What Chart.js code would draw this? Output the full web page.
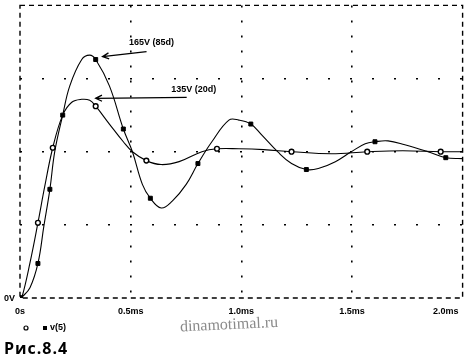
<!DOCTYPE html>
<html>
<head>
<meta charset="utf-8">
<script src="https://cdn.jsdelivr.net/npm/chart.js@4/dist/chart.umd.min.js"></script>
<style>
html,body{margin:0;padding:0;background:#fff;}
#wrap{width:468px;height:356px;position:relative;}
</style>
</head>
<body>
<div id="wrap"><canvas id="c" width="468" height="356"></canvas></div>
<script>
// ---- data (time in ms, voltage in V) ----
const t85 = [0,0.009,0.045,0.081,0.108,0.135,0.157,0.193,0.225,0.279,0.315,0.342,0.404,0.467,0.508,0.553,0.589,0.638,0.688,0.751,0.804,0.867,0.944,0.989,1.043,1.092,1.164,1.227,1.294,1.348,1.425,1.497,1.560,1.604,1.663,1.739,1.843,1.924,2.0];
const v85 = [0,0.7,7,23.6,49.3,74.3,100,125,145,163,166,163,145,115.5,100,77.7,68.2,61.5,66.2,77.7,91.9,106.8,121.6,121.6,118.9,111.5,100,91.9,87.8,88.5,93.2,100,105.4,106.8,107.4,104.7,100,95.9,95.3];
const marks85 = [0,3,5,7,11,13,16,20,24,28,33,37];

const t20 = [0,0.009,0.045,0.081,0.112,0.148,0.193,0.234,0.279,0.315,0.342,0.404,0.467,0.508,0.571,0.638,0.719,0.822,0.890,0.989,1.101,1.227,1.407,1.569,1.730,1.901,2.0];
const v20 = [0,0.7,24,51.4,76.4,102.7,125,133.8,135.8,135.1,131.1,118.9,106.8,100,93.9,91.2,93.2,100,102,102,101.4,100,98.6,100,100.7,100,100];
const marks20 = [0,3,5,10,14,18,21,23,25];

const xTickValues = [0, 0.5, 1.0, 1.5, 2.0];
const xTickLabels = ['0s', '0.5ms', '1.0ms', '1.5ms', '2.0ms'];
const yTickValues = [0];
const yTickLabels = ['0V'];

const annText = ['165V (85d)', '135V (20d)'];
const annTipT = [0.373, 0.342];
const annTipV = [165, 136.5];

const legendLabel = 'v(5)';
const caption = 'Рис.8.4';
const watermark = 'dinamotimal.ru';

// ---- build ----
const pts = (t, v) => t.map((x, i) => ({x: x, y: v[i]}));
const Y_MAX = 200, X_MAX = 2.0;

const overlay = {
  id: 'overlay',
  afterDraw(chart) {
    const ctx = chart.ctx;
    const {left, right, top, bottom} = chart.chartArea;
    const xs = chart.scales.x, ys = chart.scales.y;
    ctx.save();
    // dashed frame
    ctx.strokeStyle = '#000';
    ctx.lineWidth = 1.4;
    ctx.setLineDash([5, 4]);
    ctx.strokeRect(left, top, right - left, bottom - top);
    ctx.setLineDash([]);
    // x tick labels
    ctx.fillStyle = '#000';
    ctx.font = 'bold 9px "Liberation Sans", Arial, sans-serif';
    ctx.textBaseline = 'middle';
    xTickValues.forEach((v, i) => {
      const px = xs.getPixelForValue(v);
      if (i === xTickValues.length - 1) { ctx.textAlign = 'right'; ctx.fillText(xTickLabels[i], px - 4, bottom + 14); }
      else { ctx.textAlign = 'center'; ctx.fillText(xTickLabels[i], px, bottom + 14); }
    });
    // y tick labels
    ctx.textAlign = 'right';
    yTickValues.forEach((v, i) => {
      ctx.fillText(yTickLabels[i], left - 5, ys.getPixelForValue(v) + 1);
    });
    // annotations with arrows
    const offs = [{tx: 49, ty: -14, lx: 44, ly: -5}, {tx: 98, ty: -9, lx: 91, ly: -1}];
    ctx.lineWidth = 1.3;
    annText.forEach((txt, i) => {
      const px = xs.getPixelForValue(annTipT[i]);
      const py = ys.getPixelForValue(annTipV[i]);
      const o = offs[i];
      ctx.beginPath();
      ctx.moveTo(px, py);
      ctx.lineTo(px + o.lx, py + o.ly);
      const ang = Math.atan2(o.ly, o.lx);
      const L = 7, a = 0.45;
      ctx.moveTo(px + L * Math.cos(ang - a), py + L * Math.sin(ang - a));
      ctx.lineTo(px, py);
      ctx.lineTo(px + L * Math.cos(ang + a), py + L * Math.sin(ang + a));
      ctx.stroke();
      ctx.textAlign = 'center';
      ctx.font = 'bold 9px "Liberation Sans", Arial, sans-serif';
      ctx.fillText(txt, px + o.tx, py + o.ty);
    });
    // legend
    const ly = bottom + 30;
    ctx.lineWidth = 1.2;
    ctx.beginPath(); ctx.arc(26, ly, 2, 0, Math.PI * 2); ctx.stroke();
    ctx.fillRect(43, ly - 2, 4, 4);
    ctx.textAlign = 'left';
    ctx.fillText(legendLabel, 50, ly);
    // caption
    ctx.font = 'bold 16px "Open Sans", "Noto Sans", sans-serif';
    try { ctx.letterSpacing = '1px'; } catch (e) {}
    ctx.fillText(caption, 4, 349);
    try { ctx.letterSpacing = '0px'; } catch (e) {}
    // watermark
    ctx.save();
    ctx.translate(229, 325);
    ctx.rotate(-0.045);
    ctx.fillStyle = '#8a8a8a';
    ctx.textAlign = 'center';
    ctx.font = '16px "Liberation Serif", "DejaVu Serif", serif';
    ctx.fillText(watermark, 0, 0);
    ctx.restore();
    ctx.restore();
  }
};

const gridColor = (max) => (c) => (c.tick && (c.tick.value === 0 || c.tick.value === max)) ? 'rgba(0,0,0,0)' : '#000';

new Chart(document.getElementById('c'), {
  type: 'line',
  data: {
    datasets: [
      {
        label: '85d',
        data: pts(t85, v85),
        borderColor: '#000', borderWidth: 1.1,
        tension: 0.4,
        pointStyle: 'rect',
        pointRadius: (c) => marks85.includes(c.dataIndex) ? 2.8 : 0,
        pointBackgroundColor: '#000', pointBorderColor: '#000', pointBorderWidth: 1
      },
      {
        label: '20d',
        data: pts(t20, v20),
        borderColor: '#000', borderWidth: 1.1,
        tension: 0.4,
        pointStyle: 'circle',
        pointRadius: (c) => marks20.includes(c.dataIndex) ? 2.4 : 0,
        pointBackgroundColor: '#fff', pointBorderColor: '#000', pointBorderWidth: 1.4
      }
    ]
  },
  options: {
    responsive: false,
    animation: false,
    events: [],
    layout: {padding: {left: 20, right: 2, top: 2, bottom: 58}},
    plugins: {legend: {display: false}, tooltip: {enabled: false}},
    scales: {
      x: {
        type: 'linear', min: 0, max: X_MAX,
        ticks: {display: false, stepSize: 0.5},
        grid: {drawTicks: false, color: gridColor(X_MAX), lineWidth: 1.6},
        border: {display: false, dash: [2, 13]}
      },
      y: {
        type: 'linear', min: 0, max: Y_MAX,
        ticks: {display: false, stepSize: 50},
        grid: {drawTicks: false, color: gridColor(Y_MAX), lineWidth: 1.6},
        border: {display: false, dash: [2, 20]}
      }
    }
  },
  plugins: [overlay]
});
</script>
</body>
</html>
